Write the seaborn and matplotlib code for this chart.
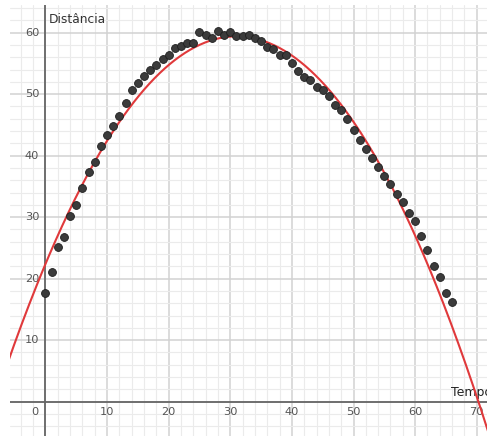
import numpy as np
import pandas as pd
import matplotlib
matplotlib.use("Agg")
import matplotlib.pyplot as plt
import seaborn as sns

# ---- data ----
tempo = list(range(0, 67))
distancia = [17.7, 21.1, 25.1, 26.8, 30.2, 31.9, 34.7, 37.3, 38.9, 41.5,
             43.4, 44.8, 46.5, 48.6, 50.7, 51.8, 53.0, 54.0, 54.8, 55.7,
             56.3, 57.5, 57.8, 58.4, 58.4, 60.1, 59.6, 59.2, 60.2, 59.7,
             60.1, 59.5, 59.5, 59.6, 59.1, 58.6, 57.7, 57.4, 56.4, 56.4,
             55.1, 53.8, 52.8, 52.3, 51.2, 50.7, 49.7, 48.2, 47.4, 45.9,
             44.2, 42.6, 41.1, 39.7, 38.2, 36.7, 35.4, 33.8, 32.4, 30.6,
             29.3, 27.0, 24.6, 22.1, 20.2, 17.6, 16.2]
# fitted parabola coefficients (a t^2 + b t + c)
curve_coef = [-0.0385, 2.387, 22.4]
x_ticks = [0, 10, 20, 30, 40, 50, 60, 70]
y_ticks = [10, 20, 30, 40, 50, 60]
x_label = "Tempo"
y_label = "Distância"

df = pd.DataFrame({"Tempo": tempo, "Distancia": distancia})
t_curve = np.linspace(-8, 74, 400)
curve_df = pd.DataFrame({"t": t_curve, "v": np.polyval(curve_coef, t_curve)})

sns.set_style("white")
plt.rcParams["font.family"] = ["DejaVu Sans"]

W, H = 487, 436
fig = plt.figure(figsize=(W / 100, H / 100), dpi=100)
ax = fig.add_axes([10 / W, 0, (W - 10) / W, (H - 5) / H])
ax.set_xlim(-5.76, 71.67)
ax.set_ylim(-5.58, 64.5)
for s in ax.spines.values():
    s.set_visible(False)
ax.set_xticks([])
ax.set_yticks([])

# grid: minor every 2, major every 10
for g in np.arange(-4, 72, 2):
    major = (g % 10 == 0)
    ax.axvline(g, color="#d2d2d2" if major else "#ebebeb",
               lw=1.1 if major else 0.8, zorder=0)
for g in np.arange(-4, 66, 2):
    major = (g % 10 == 0)
    ax.axhline(g, color="#d2d2d2" if major else "#ebebeb",
               lw=1.1 if major else 0.8, zorder=0)

# axes
ax.axhline(0, color="#666666", lw=1.3, zorder=1)
ax.axvline(0, color="#666666", lw=1.3, zorder=1)

# tick labels
for xt in x_ticks:
    xp = -1.8 if xt == 0 else xt
    ax.text(xp, -1.75, str(xt), ha="center", va="center",
            fontsize=8.2, color="#555555", zorder=3)
for yt in y_ticks:
    ax.text(-1.0, yt, str(yt), ha="right", va="center",
            fontsize=8.2, color="#555555", zorder=3)

ax.text(0.55, 62.1, y_label, ha="left", va="center", fontsize=8.8,
        color="#333333", zorder=3)
ax.text(65.9, 1.55, x_label, ha="left", va="center", fontsize=9,
        color="#222222", zorder=3, clip_on=False)

sns.lineplot(data=curve_df, x="t", y="v", ax=ax, color="#e0393b",
             lw=1.5, zorder=4, legend=False)
sns.scatterplot(data=df, x="Tempo", y="Distancia", ax=ax, s=32,
                color="#3b3b3b", edgecolor="#1e1e1e", linewidth=0.6,
                zorder=5, legend=False)
ax.set_xlabel("")
ax.set_ylabel("")
ax.set_xlim(-5.76, 71.67)
ax.set_ylim(-5.58, 64.5)

fig.savefig("out.png", dpi=100)
